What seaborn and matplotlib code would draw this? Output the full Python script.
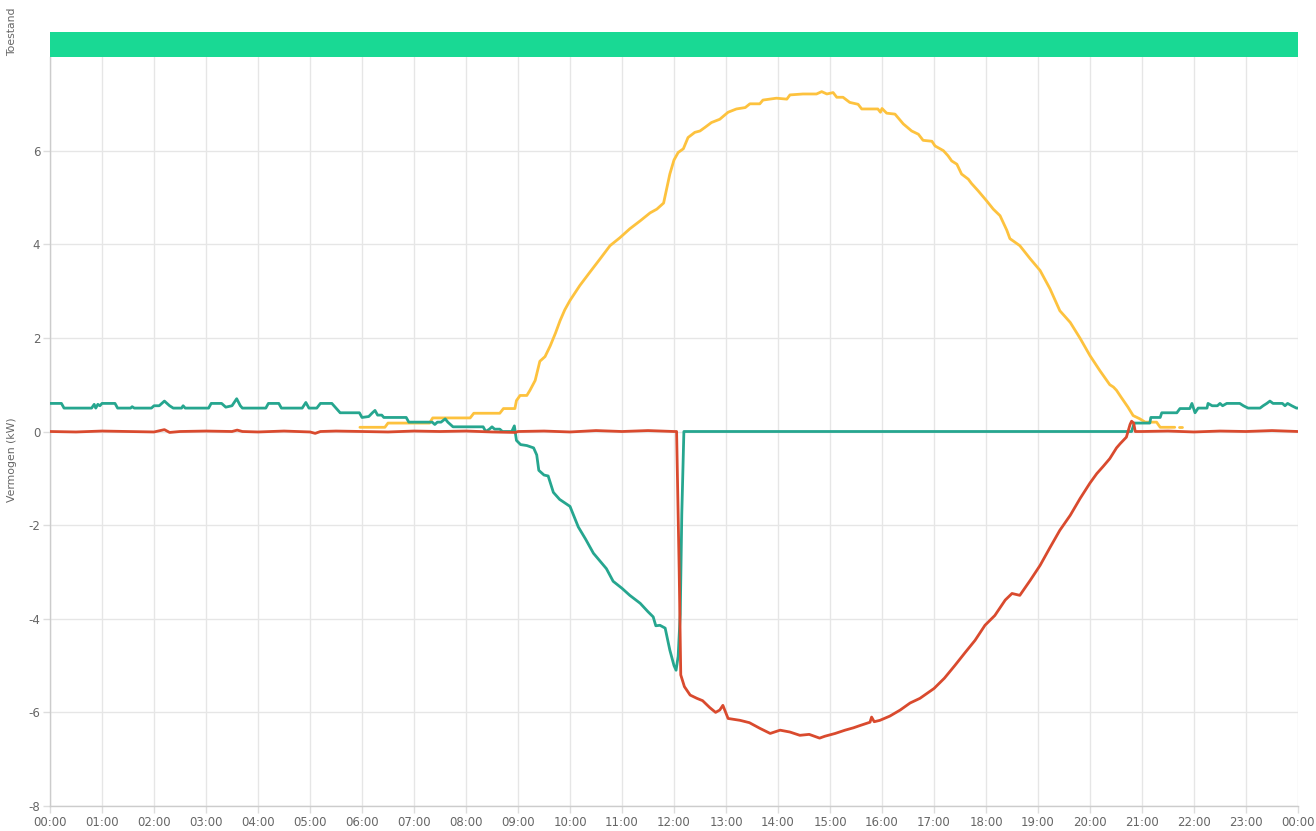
import numpy as np
import pandas as pd
import matplotlib
matplotlib.use("Agg")
import matplotlib.pyplot as plt
import seaborn as sns

# ---------------- data (hours, kW) ----------------
teal_t = [0.0, 0.22, 0.27, 0.8, 0.85, 0.88, 0.92, 0.96, 1.0, 1.25, 1.3, 1.55, 1.58, 1.62, 1.95, 2.0, 2.1, 2.2, 2.3, 2.37,
          2.53, 2.56, 2.6, 3.05, 3.1, 3.3, 3.38, 3.5, 3.59, 3.66, 3.7, 4.15, 4.2, 4.4, 4.45, 4.85, 4.92, 4.98, 5.13, 5.2,
          5.42, 5.5, 5.58, 5.95, 6.0, 6.13, 6.2, 6.25, 6.3, 6.38, 6.42, 6.85, 6.9, 7.35, 7.4, 7.45, 7.52, 7.6, 7.65, 7.75,
          8.33, 8.38, 8.45, 8.5, 8.55, 8.65, 8.7, 8.88, 8.93, 8.97, 9.05, 9.17, 9.3, 9.36, 9.4, 9.5, 9.58, 9.68, 9.8, 10.0,
          10.16, 10.3, 10.45, 10.6, 10.7, 10.83, 11.0, 11.15, 11.35, 11.5, 11.6, 11.65, 11.73, 11.83, 11.92, 12.0, 12.04,
          12.08, 12.12, 12.15, 12.19, 20.8, 20.85, 21.15, 21.17, 21.35, 21.38, 21.67, 21.73, 21.92, 21.96, 22.02, 22.08,
          22.25, 22.27, 22.35, 22.45, 22.5, 22.55, 22.63, 22.88, 22.95, 23.04, 23.27, 23.33, 23.4, 23.46, 23.52, 23.7,
          23.75, 23.8, 23.88, 23.97, 24.0]
teal_v = [0.6, 0.6, 0.5, 0.5, 0.58, 0.5, 0.58, 0.55, 0.6, 0.6, 0.5, 0.5, 0.53, 0.5, 0.5, 0.55, 0.55, 0.65, 0.55, 0.5,
          0.5, 0.55, 0.5, 0.5, 0.6, 0.6, 0.52, 0.55, 0.7, 0.55, 0.5, 0.5, 0.6, 0.6, 0.5, 0.5, 0.62, 0.5, 0.5, 0.6,
          0.6, 0.5, 0.4, 0.4, 0.3, 0.32, 0.4, 0.45, 0.35, 0.35, 0.3, 0.3, 0.2, 0.2, 0.15, 0.2, 0.2, 0.27, 0.2, 0.1,
          0.1, 0.0, 0.05, 0.1, 0.05, 0.05, 0.0, 0.0, 0.12, -0.19, -0.28, -0.3, -0.35, -0.5, -0.83, -0.93, -0.95, -1.3,
          -1.45, -1.6, -2.04, -2.3, -2.6, -2.8, -2.93, -3.2, -3.35, -3.5, -3.67, -3.85, -3.96, -4.15, -4.14, -4.2,
          -4.67, -5.0, -5.1, -4.8, -3.9, -1.76, 0.0, 0.0, 0.18, 0.18, 0.3, 0.3, 0.4, 0.4, 0.49, 0.49, 0.6, 0.4, 0.5,
          0.5, 0.6, 0.55, 0.55, 0.6, 0.55, 0.6, 0.6, 0.55, 0.5, 0.5, 0.55, 0.6, 0.65, 0.6, 0.6, 0.55, 0.6, 0.55, 0.5, 0.5]

yellow_t = [5.96, 6.44, 6.5, 7.3, 7.36, 8.08, 8.15, 8.65, 8.72, 8.94, 8.97, 9.04, 9.17, 9.23, 9.33, 9.42, 9.52, 9.62,
            9.72, 9.81, 9.9, 10.0, 10.19, 10.38, 10.58, 10.77, 10.96, 11.15, 11.35, 11.54, 11.67, 11.8, 11.92, 12.0,
            12.08, 12.18, 12.27, 12.4, 12.5, 12.6, 12.72, 12.88, 13.04, 13.2, 13.37, 13.46, 13.65, 13.71, 13.97, 14.17,
            14.23, 14.48, 14.74, 14.84, 14.94, 15.06, 15.13, 15.25, 15.38, 15.54, 15.61, 15.92, 15.97, 16.0, 16.09,
            16.25, 16.41, 16.57, 16.7, 16.79, 16.96, 17.02, 17.18, 17.27, 17.34, 17.44, 17.53, 17.66, 17.72, 17.85,
            18.01, 18.14, 18.27, 18.4, 18.46, 18.65, 18.85, 19.04, 19.23, 19.42, 19.62, 19.81, 20.0, 20.19, 20.38,
            20.45, 20.51, 20.6, 20.73, 20.83, 20.96, 21.06, 21.28, 21.35, 21.63]
yellow_v = [0.09, 0.09, 0.18, 0.18, 0.29, 0.29, 0.39, 0.39, 0.49, 0.49, 0.66, 0.77, 0.77, 0.88, 1.09, 1.5, 1.6, 1.83,
            2.1, 2.37, 2.6, 2.8, 3.12, 3.4, 3.69, 3.97, 4.14, 4.33, 4.5, 4.67, 4.75, 4.88, 5.5, 5.8,
            5.96, 6.04, 6.28, 6.39, 6.42, 6.5, 6.6, 6.67, 6.82, 6.89, 6.92, 7.0, 7.0, 7.08, 7.12, 7.1,
            7.19, 7.21, 7.21, 7.26, 7.21, 7.24, 7.14, 7.14, 7.03, 6.99, 6.89, 6.89, 6.82, 6.9, 6.8,
            6.78, 6.57, 6.42, 6.35, 6.22, 6.2, 6.1, 6.0, 5.89, 5.78, 5.71, 5.5, 5.39, 5.3, 5.14,
            4.93, 4.75, 4.61, 4.3, 4.12, 3.97, 3.69, 3.44, 3.05, 2.58, 2.33, 1.99, 1.62, 1.3, 1.0,
            0.95, 0.88, 0.73, 0.52, 0.34, 0.27, 0.2, 0.2, 0.09, 0.09]
yellow_dot_t = [21.72, 21.76]
yellow_dot_v = [0.09, 0.09]

red_t = [0.0, 0.5, 1.0, 1.5, 2.0, 2.2, 2.3, 2.5, 3.0, 3.5, 3.6, 3.7, 4.0, 4.5, 5.0, 5.1, 5.2, 5.5, 6.0, 6.5, 7.0, 7.5,
         8.0, 8.5, 8.95, 9.0, 9.5, 10.0, 10.5, 11.0, 11.5, 12.0, 12.05, 12.1, 12.13, 12.2, 12.31, 12.44, 12.55, 12.69,
         12.8, 12.88, 12.94, 13.04, 13.27, 13.45, 13.65, 13.85, 14.04, 14.23, 14.42, 14.6, 14.8, 14.9, 15.1, 15.29,
         15.45, 15.58, 15.77, 15.8, 15.85, 15.96, 16.15, 16.35, 16.54, 16.73, 17.0, 17.2, 17.4, 17.6, 17.79, 17.98,
         18.17, 18.37, 18.5, 18.65, 18.85, 19.04, 19.23, 19.42, 19.62, 19.81, 20.0, 20.13, 20.25, 20.38, 20.51, 20.58,
         20.7, 20.77, 20.8, 20.84, 20.87, 21.0, 21.5, 22.0, 22.5, 23.0, 23.5, 24.0]
red_v = [0.0, -0.01, 0.01, 0.0, -0.01, 0.04, -0.02, 0.0, 0.01, 0.0, 0.03, 0.0, -0.01, 0.01, -0.01, -0.04, 0.0, 0.01,
         0.0, -0.01, 0.01, 0.0, 0.01, -0.01, -0.02, 0.0, 0.01, -0.01, 0.02, 0.0, 0.02, 0.0, 0.0, -3.0, -5.2, -5.45,
         -5.63, -5.7, -5.75, -5.9, -6.0, -5.95, -5.85, -6.13, -6.17, -6.22, -6.34, -6.45, -6.38, -6.42, -6.49, -6.47,
         -6.55, -6.51, -6.45, -6.38, -6.33, -6.28, -6.21, -6.1, -6.2, -6.17, -6.08, -5.95, -5.8, -5.7, -5.49, -5.27,
         -5.0, -4.72, -4.46, -4.14, -3.93, -3.6, -3.46, -3.5, -3.18, -2.86, -2.48, -2.11, -1.79, -1.43, -1.1, -0.9,
         -0.75, -0.58, -0.35, -0.26, -0.12, 0.15, 0.22, 0.18, 0.0, 0.0, 0.01, -0.01, 0.01, 0.0, 0.02, 0.0]

x_ticks = list(range(0, 25))
x_labels = [f"{h % 24:02d}:00" for h in x_ticks]
y_ticks = [-8, -6, -4, -2, 0, 2, 4, 6]

TEAL = "#26a68f"
RED = "#d94a2e"
YELLOW = "#fdc23e"
BAND = "#19d994"
GRID = "#e6e6e6"
TXT = "#666666"

sns.set_theme(style="white")
plt.rcParams['font.family'] = ['DejaVu Sans']
plt.rcParams['axes.unicode_minus'] = False

fig = plt.figure(figsize=(13.16, 8.31), dpi=100)
W, H = 1316, 831
ax = fig.add_axes([50 / W, 1 - 806 / H, (1298 - 50) / W, (806 - 57) / H])
band = fig.add_axes([50 / W, 1 - 57 / H, (1298 - 50) / W, 25 / H])

df_y = pd.DataFrame({"t": yellow_t, "v": yellow_v})
df_yd = pd.DataFrame({"t": yellow_dot_t, "v": yellow_dot_v})
df_t = pd.DataFrame({"t": teal_t, "v": teal_v})
df_r = pd.DataFrame({"t": red_t, "v": red_v})

sns.lineplot(data=df_y, x="t", y="v", ax=ax, color=YELLOW, lw=2.0, estimator=None, sort=False, zorder=3)
sns.lineplot(data=df_yd, x="t", y="v", ax=ax, color=YELLOW, lw=2.0, estimator=None, sort=False, zorder=3)
sns.lineplot(data=df_t, x="t", y="v", ax=ax, color=TEAL, lw=2.0, estimator=None, sort=False, zorder=4)
sns.lineplot(data=df_r, x="t", y="v", ax=ax, color=RED, lw=2.0, estimator=None, sort=False, zorder=5)

ax.set_xlim(0, 24)
ax.set_ylim(-8, 8)
ax.set_xticks(x_ticks)
ax.set_xticklabels(x_labels)
ax.set_yticks(y_ticks)
ax.grid(True, color=GRID, lw=1)
ax.set_axisbelow(True)
ax.set_xlabel("")
ax.set_ylabel("")
for s in ["top", "right"]:
    ax.spines[s].set_visible(False)
for s in ["left", "bottom"]:
    ax.spines[s].set_color("#cccccc")
    ax.spines[s].set_linewidth(1)
ax.tick_params(axis="both", colors=TXT, labelsize=8.5, length=5, width=1, color="#dddddd", pad=2, bottom=True, left=True)
for lbl in ax.get_xticklabels() + ax.get_yticklabels():
    lbl.set_color(TXT)

# status band
band.axvspan(0, 24, color=BAND, lw=0)
band.set_xlim(0, 24)
band.set_ylim(0, 1)
band.set_xticks([])
band.set_yticks([])
for s in band.spines.values():
    s.set_visible(False)

fig.text(12 / W, 1 - 460 / H, "Vermogen (kW)", rotation=90, ha="center", va="center", fontsize=7.8, color=TXT)
fig.text(12 / W, 1 - 32 / H, "Toestand", rotation=90, ha="center", va="center", fontsize=7.8, color=TXT)

fig.savefig("out.png", dpi=100)
